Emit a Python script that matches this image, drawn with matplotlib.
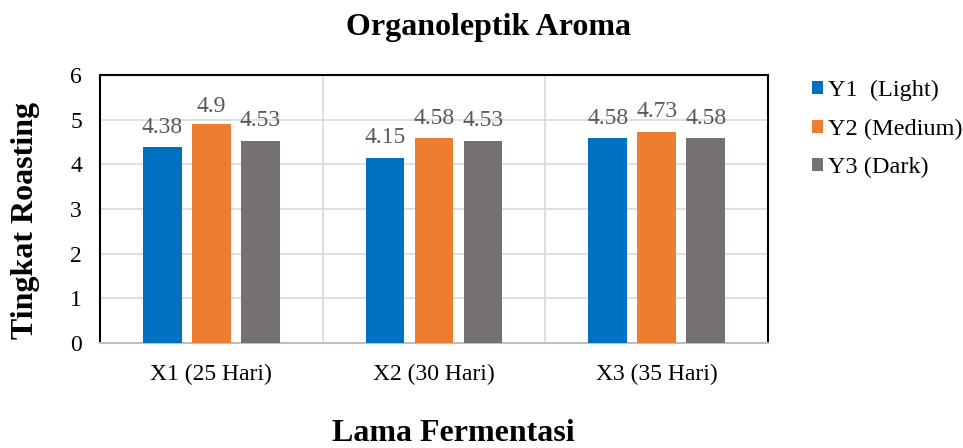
import numpy as np
import matplotlib.pyplot as plt

# Data
categories = ["X1 (25 Hari)", "X2 (30 Hari)", "X3 (35 Hari)"]
series_names = ["Y1  (Light)", "Y2 (Medium)", "Y3 (Dark)"]
y1_light = [4.38, 4.15, 4.58]
y2_medium = [4.9, 4.58, 4.73]
y3_dark = [4.53, 4.53, 4.58]
colors = ["#0070C0", "#ED7D31", "#767171"]

plt.rcParams['font.family'] = ['Liberation Serif', 'DejaVu Serif']

fig = plt.figure(figsize=(9.63, 4.48), dpi=100)
ax = fig.add_axes([100 / 963, 1 - 343 / 448, 668 / 963, 268 / 448])

x = np.arange(len(categories))
width = 0.175
step = 0.22
for i, (vals, name, c) in enumerate(zip([y1_light, y2_medium, y3_dark], series_names, colors)):
    bars = ax.bar(x + (i - 1) * step, vals, width, color=c, label=name, zorder=3)
    for b, v in zip(bars, vals):
        # keep labels below the top frame, like the original
        ty = min(v + 0.22, 5.05)
        ax.text(b.get_x() + b.get_width() / 2, ty, f"{v:g}", ha='center', va='bottom',
                fontsize=17, color='#595959')

ax.set_xlim(-0.5, 2.5)
ax.set_ylim(0, 6)
ax.set_yticks(range(0, 7))
ax.set_xticks(x)
ax.set_xticklabels(categories)
ax.tick_params(axis='both', length=0, labelsize=17, colors='black')
ax.tick_params(axis='x', pad=15)
ax.tick_params(axis='y', pad=13)

# grid: horizontal at integers, vertical at category boundaries
ax.yaxis.grid(True, color='#D9D9D9', linewidth=1.2, zorder=0)
for b in [0.5, 1.5]:
    ax.axvline(b, color='#D9D9D9', linewidth=1.2, zorder=0)

for s in ['left', 'top', 'right']:
    ax.spines[s].set_color('black')
    ax.spines[s].set_linewidth(1.5)
ax.spines['bottom'].set_color('#BFBFBF')
ax.spines['bottom'].set_linewidth(1.5)

fig.text(488 / 963, 1 - 27 / 448, "Organoleptik Aroma", ha='center', va='center',
         fontsize=23, fontweight='bold')
fig.text(453 / 963, 1 - 433 / 448, "Lama Fermentasi", ha='center', va='center',
         fontsize=23, fontweight='bold')
fig.text(25 / 963, 1 - 220 / 448, "Tingkat Roasting", ha='center', va='center',
         rotation=90, fontsize=23, fontweight='bold')

ax.legend(loc='upper left', bbox_to_anchor=(812 / 963, 1 - 80 / 448), bbox_transform=fig.transFigure,
          frameon=False, fontsize=17.5, handlelength=0.45, handleheight=0.45, handletextpad=0.2,
          labelspacing=0.72, borderaxespad=0, borderpad=0)

fig.savefig("out.png", dpi=100)
